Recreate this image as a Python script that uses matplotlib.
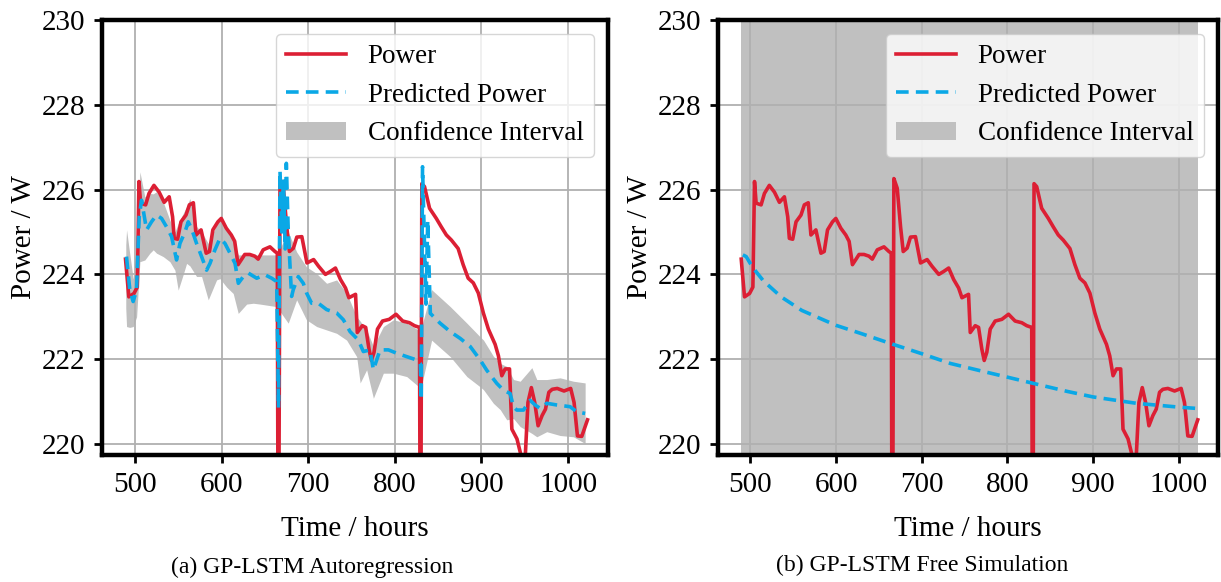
import matplotlib
matplotlib.use('Agg')
import matplotlib.pyplot as plt

plt.rcParams['font.family'] = 'Liberation Serif'

# measured power (same series in both panels)
power_t = [489.2, 493.0, 498.9, 502.8, 504.7, 506.6, 512.4, 516.3, 522.0, 528.0, 533.8, 539.6,
           543.5, 545.4, 549.3, 553.2, 559.0, 562.9, 567.5, 570.6, 576.4, 582.3, 586.1, 590.0,
           595.8, 599.7, 605.5, 611.3, 615.2, 619.1, 623.0, 626.8, 632.6, 638.4, 642.3, 648.1,
           655.9, 661.7, 664.4, 665.6, 667.5, 671.4, 675.3, 678.4, 683.0, 686.9, 692.7, 698.6,
           706.3, 712.1, 719.9, 725.7, 731.5, 737.3, 743.1, 747.0, 754.7, 756.7, 762.5, 766.4,
           770.2, 773.0, 776.0, 780.0, 785.8, 793.6, 801.4, 809.1, 816.9, 822.7, 828.5, 829.7,
           831.2, 834.3, 840.1, 847.9, 853.7, 859.5, 865.3, 873.1, 878.9, 884.7, 890.6, 896.4,
           902.2, 908.0, 915.8, 919.6, 923.5, 927.4, 932.4, 935.1, 941.0, 946.8, 950.6, 953.7,
           957.6, 961.5, 965.4, 970.0, 973.9, 977.8, 981.7, 987.5, 995.3, 1003.0, 1006.9,
           1010.8, 1015.8, 1022.4]
power_v = [224.36, 223.47, 223.55, 223.70, 226.19, 225.68, 225.64, 225.91, 226.10, 225.94, 225.70, 225.83,
           225.36, 224.85, 224.83, 225.24, 225.40, 225.64, 225.69, 224.93, 225.05, 224.50, 224.54, 225.05,
           225.24, 225.32, 225.09, 224.93, 224.78, 224.23, 224.35, 224.47, 224.47, 224.43, 224.36, 224.58,
           224.65, 224.54, 224.50, 215.00, 226.26, 226.03, 225.12, 224.54, 224.62, 224.88, 224.89, 224.27,
           224.35, 224.19, 224.00, 224.07, 224.15, 223.88, 223.68, 223.45, 223.53, 222.63, 222.79, 222.75,
           222.24, 221.97, 222.16, 222.71, 222.90, 222.94, 223.06, 222.90, 222.86, 222.79, 222.75, 215.00,
           226.14, 226.07, 225.56, 225.32, 225.12, 224.93, 224.81, 224.61, 224.23, 223.91, 223.80, 223.56,
           223.09, 222.71, 222.35, 222.08, 221.61, 221.77, 221.77, 220.35, 220.12, 219.64, 219.72, 220.98,
           221.33, 220.98, 220.43, 220.67, 220.82, 221.22, 221.29, 221.31, 221.25, 221.31, 220.98,
           220.19, 220.18, 220.57]

# (a) autoregression prediction
ar_t = [490.3, 494.2, 498.0, 501.9, 505.0, 507.7, 513.5, 519.2, 525.0, 530.8, 536.6, 542.4,
        548.1, 552.0, 557.8, 561.6, 565.4, 571.2, 577.0, 582.8, 586.7, 592.4, 598.2, 604.0,
        609.8, 615.6, 619.4, 625.2, 631.0, 640.6, 650.2, 657.9, 663.7, 665.8, 667.5, 669.5,
        671.5, 673.5, 674.8, 677.1, 680.9, 682.8, 688.6, 694.4, 698.2, 704.0, 711.7, 721.3,
        732.9, 740.6, 748.4, 758.0, 763.7, 771.4, 775.3, 783.0, 792.6, 802.3, 813.8, 825.4,
        829.5, 830.5, 832.0, 836.0, 838.0, 841.0, 852.2, 864.0, 875.5, 887.0, 898.6, 906.1,
        917.7, 925.4, 933.1, 937.0, 940.8, 948.5, 956.2, 962.0, 967.7, 975.4, 987.0, 1002.3,
        1010.0, 1019.7]
ar_v = [224.42, 223.63, 223.36, 223.63, 225.36, 225.75, 225.05, 225.24, 225.40, 225.32, 225.12, 224.89,
        224.34, 224.73, 225.00, 225.24, 225.08, 224.73, 224.42, 224.10, 224.26, 224.58, 224.85, 224.73,
        224.50, 224.26, 223.79, 223.95, 224.03, 223.91, 223.99, 223.91, 223.83, 220.85, 226.45, 225.00,
        226.20, 224.60, 226.62, 224.97, 223.48, 223.64, 223.95, 223.79, 223.56, 223.32, 223.32, 223.17,
        223.09, 222.93, 222.65, 222.45, 222.18, 222.22, 221.75, 222.22, 222.22, 222.14, 222.06, 221.98,
        221.90, 221.04, 226.54, 223.30, 225.28, 223.08, 222.85, 222.65, 222.49, 222.30, 221.98, 221.74,
        221.43, 221.27, 221.19, 220.88, 220.80, 220.80, 221.03, 220.92, 220.84, 220.96, 220.92, 220.88,
        220.76, 220.72]

ar_ci_t = [489.5, 490.4, 494.0, 498.1, 502.0, 505.8, 511.5, 517.3, 521.2, 525.0, 532.7, 540.4,
           546.2, 550.0, 555.8, 559.7, 563.5, 571.2, 577.0, 584.7, 594.3, 598.2, 605.9, 613.5,
           619.3, 629.0, 636.7, 644.4, 663.6, 677.0, 686.7, 698.0, 709.8, 721.3, 732.9, 744.4,
           756.0, 760.0, 767.5, 775.3, 786.8, 798.4, 813.8, 827.2, 830.0, 842.5, 864.0, 883.2,
           898.4, 902.4, 913.8, 921.7, 929.2, 937.0, 944.7, 958.2, 963.9, 975.4, 990.8, 1006.2,
           1019.7]
ar_ci_lo = [223.20, 222.77, 222.75, 222.77, 223.00, 224.30, 224.34, 224.50, 224.58, 224.50, 224.42, 224.30,
            224.10, 223.63, 224.00, 224.26, 224.20, 223.95, 223.95, 223.40, 223.87, 223.90, 223.70, 223.55,
            223.08, 223.30, 223.32, 223.30, 223.24, 222.85, 223.40, 222.93, 222.77, 222.69, 222.61, 222.45,
            222.06, 221.44, 221.75, 221.08, 221.67, 221.67, 221.59, 221.36, 221.30, 222.45, 222.06, 221.59,
            221.35, 221.28, 220.96, 220.81, 220.57, 220.60, 220.41, 220.25, 220.17, 220.29, 220.20, 220.17,
            220.01]
ar_ci_hi = [224.70, 225.05, 224.50, 223.90, 224.20, 226.42, 225.83, 225.91, 225.90, 225.95, 225.71, 225.28,
            225.00, 225.20, 225.44, 225.60, 225.79, 225.13, 225.00, 224.73, 225.17, 225.32, 225.09, 224.81,
            224.46, 224.46, 224.46, 224.46, 224.46, 225.00, 224.53, 224.18, 224.02, 223.79, 223.87, 223.56,
            223.00, 222.90, 222.69, 222.30, 222.77, 222.93, 222.85, 222.69, 222.70, 223.64, 223.24, 222.85,
            222.53, 222.45, 222.07, 221.90, 221.83, 221.52, 221.48, 221.80, 221.52, 221.52, 221.56, 221.48,
            221.44]

# (b) free simulation prediction
fs_t = [491.1, 495.0, 500.0, 504.7, 515.0, 535.8, 560.0, 599.7, 630.0, 663.6, 700.0, 733.4,
        770.0, 799.3, 830.3, 870.0, 900.1, 950.6, 1000.0, 1020.4]
fs_v = [224.46, 224.42, 224.25, 224.11, 223.85, 223.47, 223.15, 222.80, 222.60, 222.37, 222.13, 221.90,
        221.72, 221.58, 221.43, 221.24, 221.11, 220.96, 220.87, 220.84]
fs_ci_t = [489.2, 1022.4]
fs_ci_lo = [200.0, 200.0]
fs_ci_hi = [250.0, 250.0]

red = '#dc1f34'
blue = '#0aa8e6'
gray = '#c0c0c0'

fig = plt.figure(figsize=(12.21, 5.82), dpi=100)
ax1 = fig.add_axes([0.0835, 0.2182, 0.4144, 0.7474])
ax2 = fig.add_axes([0.588, 0.2182, 0.4095, 0.7474])

panels = [(ax1, ar_t, ar_v, ar_ci_t, ar_ci_lo, ar_ci_hi),
          (ax2, fs_t, fs_v, fs_ci_t, fs_ci_lo, fs_ci_hi)]
for ax, pt, pv, ct, clo, chi in panels:
    ax.plot(power_t, power_v, color=red, lw=2.6, label='Power')
    ax.plot(pt, pv, color=blue, lw=2.6, ls=(0, (3.5, 2.0)), label='Predicted Power')
    ax.fill_between(ct, clo, chi, color=gray, lw=0, label='Confidence Interval')
    ax.set_xlim(462, 1046)
    ax.set_ylim(219.74, 230)
    ax.set_xticks([500, 600, 700, 800, 900, 1000])
    ax.set_yticks([220, 222, 224, 226, 228, 230])
    ax.grid(True, color='#b0b0b0', lw=1.3)
    for s in ax.spines.values():
        s.set_linewidth(3.2)
    ax.tick_params(labelsize=21, width=2, length=6, pad=6)
    ax.set_xlabel('Time / hours', fontsize=21, labelpad=13)
    ax.set_ylabel('Power / W', fontsize=21, labelpad=3)
    ax.legend(loc='upper right', fontsize=19.5, handlelength=2.2)

fig.text(312 / 1221, 1 - 567 / 582, '(a) GP-LSTM Autoregression', ha='center', va='center', fontsize=17)
fig.text(922 / 1221, 1 - 565 / 582, '(b) GP-LSTM Free Simulation', ha='center', va='center', fontsize=17)

plt.savefig('out.png', dpi=100)
